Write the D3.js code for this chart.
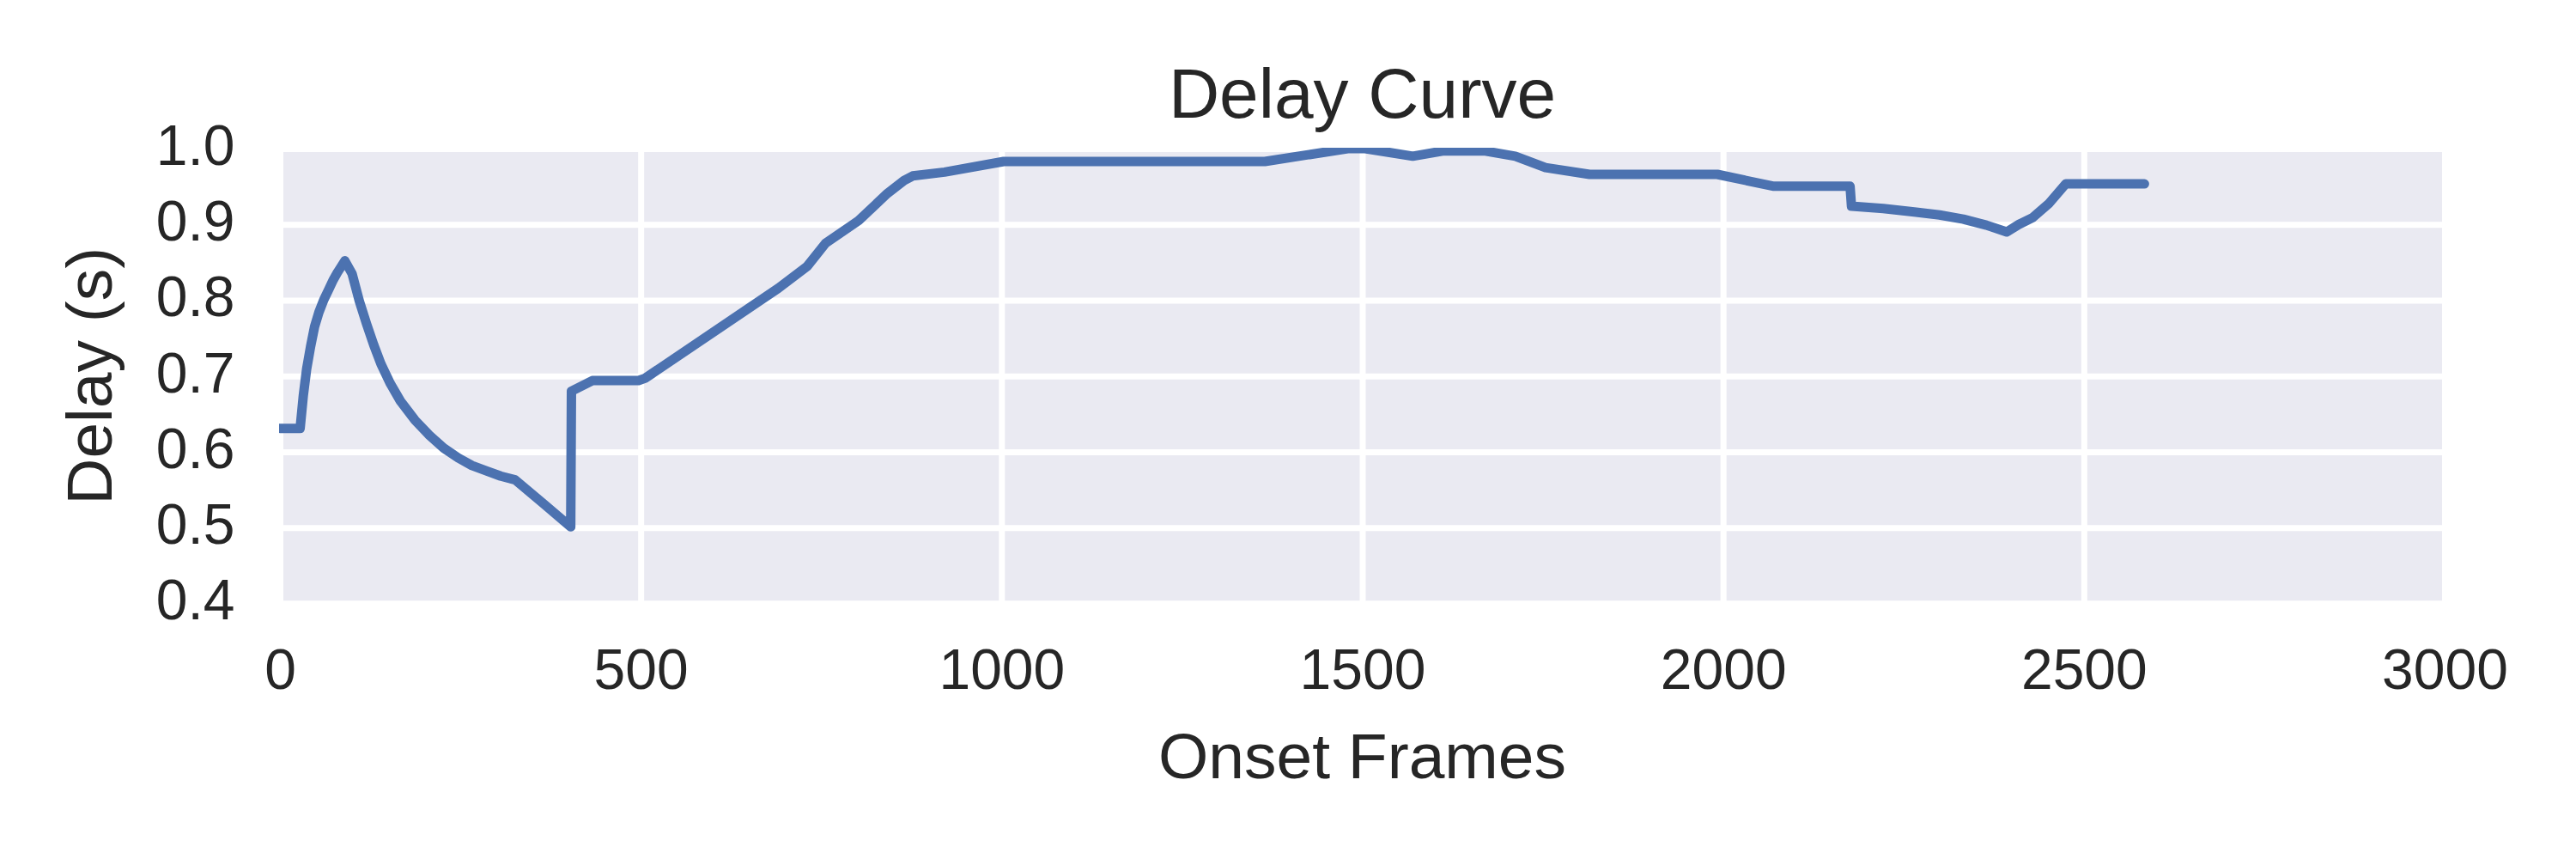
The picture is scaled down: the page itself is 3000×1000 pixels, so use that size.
<!DOCTYPE html>
<html>
<head>
<meta charset="utf-8">
<script src="https://cdn.jsdelivr.net/npm/d3@7"></script>
<style>
body { margin: 0; background: white; }
</style>
</head>
<body>
<script>
var frames = [0, 28, 32.5, 37, 42.5, 48, 54, 61, 68, 74, 80, 90, 100, 110, 120, 130, 140, 153, 167, 187, 207, 227,
	247, 266, 286, 306, 326, 366, 403, 404, 433, 497, 506, 691, 731, 756, 802, 842, 865, 877, 921, 1003, 1365, 1480,
	1504, 1570, 1613, 1669, 1712, 1754, 1815, 1992, 2069, 2176, 2178, 2222, 2265, 2300, 2333, 2365, 2393, 2410,
	2429, 2452, 2475, 2584]
var delays = [0.631, 0.631, 0.675, 0.709, 0.739, 0.765, 0.784, 0.801, 0.815, 0.827, 0.837, 0.852, 0.835, 0.799,
	0.769, 0.741, 0.716, 0.690, 0.667, 0.642, 0.622, 0.605, 0.592, 0.582, 0.575, 0.568, 0.563, 0.531, 0.501, 0.680,
	0.694, 0.694, 0.697, 0.816, 0.845, 0.875, 0.905, 0.941, 0.958, 0.964, 0.969, 0.983, 0.983, 1.0, 1.0, 0.990,
	0.997, 0.997, 0.990, 0.975, 0.966, 0.966, 0.9505, 0.9505, 0.924, 0.921, 0.9165, 0.9125, 0.907, 0.899, 0.890,
	0.900, 0.909, 0.928, 0.9535, 0.9535]
var xTicks = [0, 500, 1000, 1500, 2000, 2500, 3000]
var yTicks = [0.4, 0.5, 0.6, 0.7, 0.8, 0.9, 1.0]

var width = 3000
var height = 1000
var plotLeft = 326, plotRight = 2847, plotTop = 173, plotBottom = 702.5
var font = "'Liberation Sans', Arial, sans-serif"
var ink = "#262626"

var svg = d3.select("body")
	.append("svg")
	.attr("width", width)
	.attr("height", height)

var x = d3.scaleLinear().domain([0, 3000]).range([plotLeft, plotRight])
var y = d3.scaleLinear().domain([0.4, 1.0]).range([plotBottom, plotTop])

svg.append("rect")
	.attr("x", plotLeft)
	.attr("y", plotTop)
	.attr("width", plotRight - plotLeft)
	.attr("height", plotBottom - plotTop)
	.attr("fill", "#EAEAF2")

// white grid
svg.append("g")
	.attr("class", "grid")
	.attr("transform", "translate(0," + plotBottom + ")")
	.call(d3.axisBottom(x).tickValues(xTicks).tickSize(-(plotBottom - plotTop)).tickFormat(""))
svg.append("g")
	.attr("class", "grid")
	.attr("transform", "translate(" + plotLeft + ",0)")
	.call(d3.axisLeft(y).tickValues(yTicks).tickSize(-(plotRight - plotLeft)).tickFormat(""))
svg.selectAll(".grid .domain").remove()
svg.selectAll(".grid .tick line").attr("stroke", "white").attr("stroke-width", 7)

// spines
svg.append("rect")
	.attr("x", plotLeft)
	.attr("y", plotTop)
	.attr("width", plotRight - plotLeft)
	.attr("height", plotBottom - plotTop)
	.attr("fill", "none")
	.attr("stroke", "white")
	.attr("stroke-width", 6)

svg.append("clipPath").attr("id", "clip")
	.append("rect")
	.attr("x", plotLeft - 1)
	.attr("y", plotTop - 1)
	.attr("width", plotRight - plotLeft + 2)
	.attr("height", plotBottom - plotTop + 2)

var line = d3.line()
	.x((d, i) => x(frames[i]))
	.y((d, i) => y(delays[i]))

svg.append("path")
	.datum(frames)
	.attr("d", line)
	.attr("clip-path", "url(#clip)")
	.attr("fill", "none")
	.attr("stroke", "#4C72B0")
	.attr("stroke-width", 11)
	.attr("stroke-linejoin", "round")
	.attr("stroke-linecap", "round")

// tick labels
var xAxis = svg.append("g")
	.attr("transform", "translate(0," + plotBottom + ")")
	.call(d3.axisBottom(x).tickValues(xTicks).tickSize(0).tickPadding(52.5).tickFormat(d3.format("d")))
var yAxis = svg.append("g")
	.attr("transform", "translate(" + plotLeft + ",0)")
	.call(d3.axisLeft(y).tickValues(yTicks).tickSize(0).tickPadding(52.5).tickFormat(d3.format(".1f")))
xAxis.select(".domain").remove()
yAxis.select(".domain").remove()
yAxis.selectAll("text").attr("dy", "0.28em")
svg.selectAll(".tick text")
	.attr("font-family", font)
	.attr("font-size", 66)
	.attr("fill", ink)

svg.append("text")
	.attr("x", (plotLeft + plotRight) / 2)
	.attr("y", 137)
	.attr("text-anchor", "middle")
	.attr("font-family", font)
	.attr("font-size", 82)
	.attr("fill", ink)
	.text("Delay Curve")

svg.append("text")
	.attr("x", (plotLeft + plotRight) / 2)
	.attr("y", 906)
	.attr("text-anchor", "middle")
	.attr("font-family", font)
	.attr("font-size", 75)
	.attr("fill", ink)
	.text("Onset Frames")

svg.append("text")
	.attr("transform", "translate(130," + (plotTop + plotBottom) / 2 + ") rotate(-90)")
	.attr("text-anchor", "middle")
	.attr("font-family", font)
	.attr("font-size", 75)
	.attr("fill", ink)
	.text("Delay (s)")
</script>
</body>
</html>
